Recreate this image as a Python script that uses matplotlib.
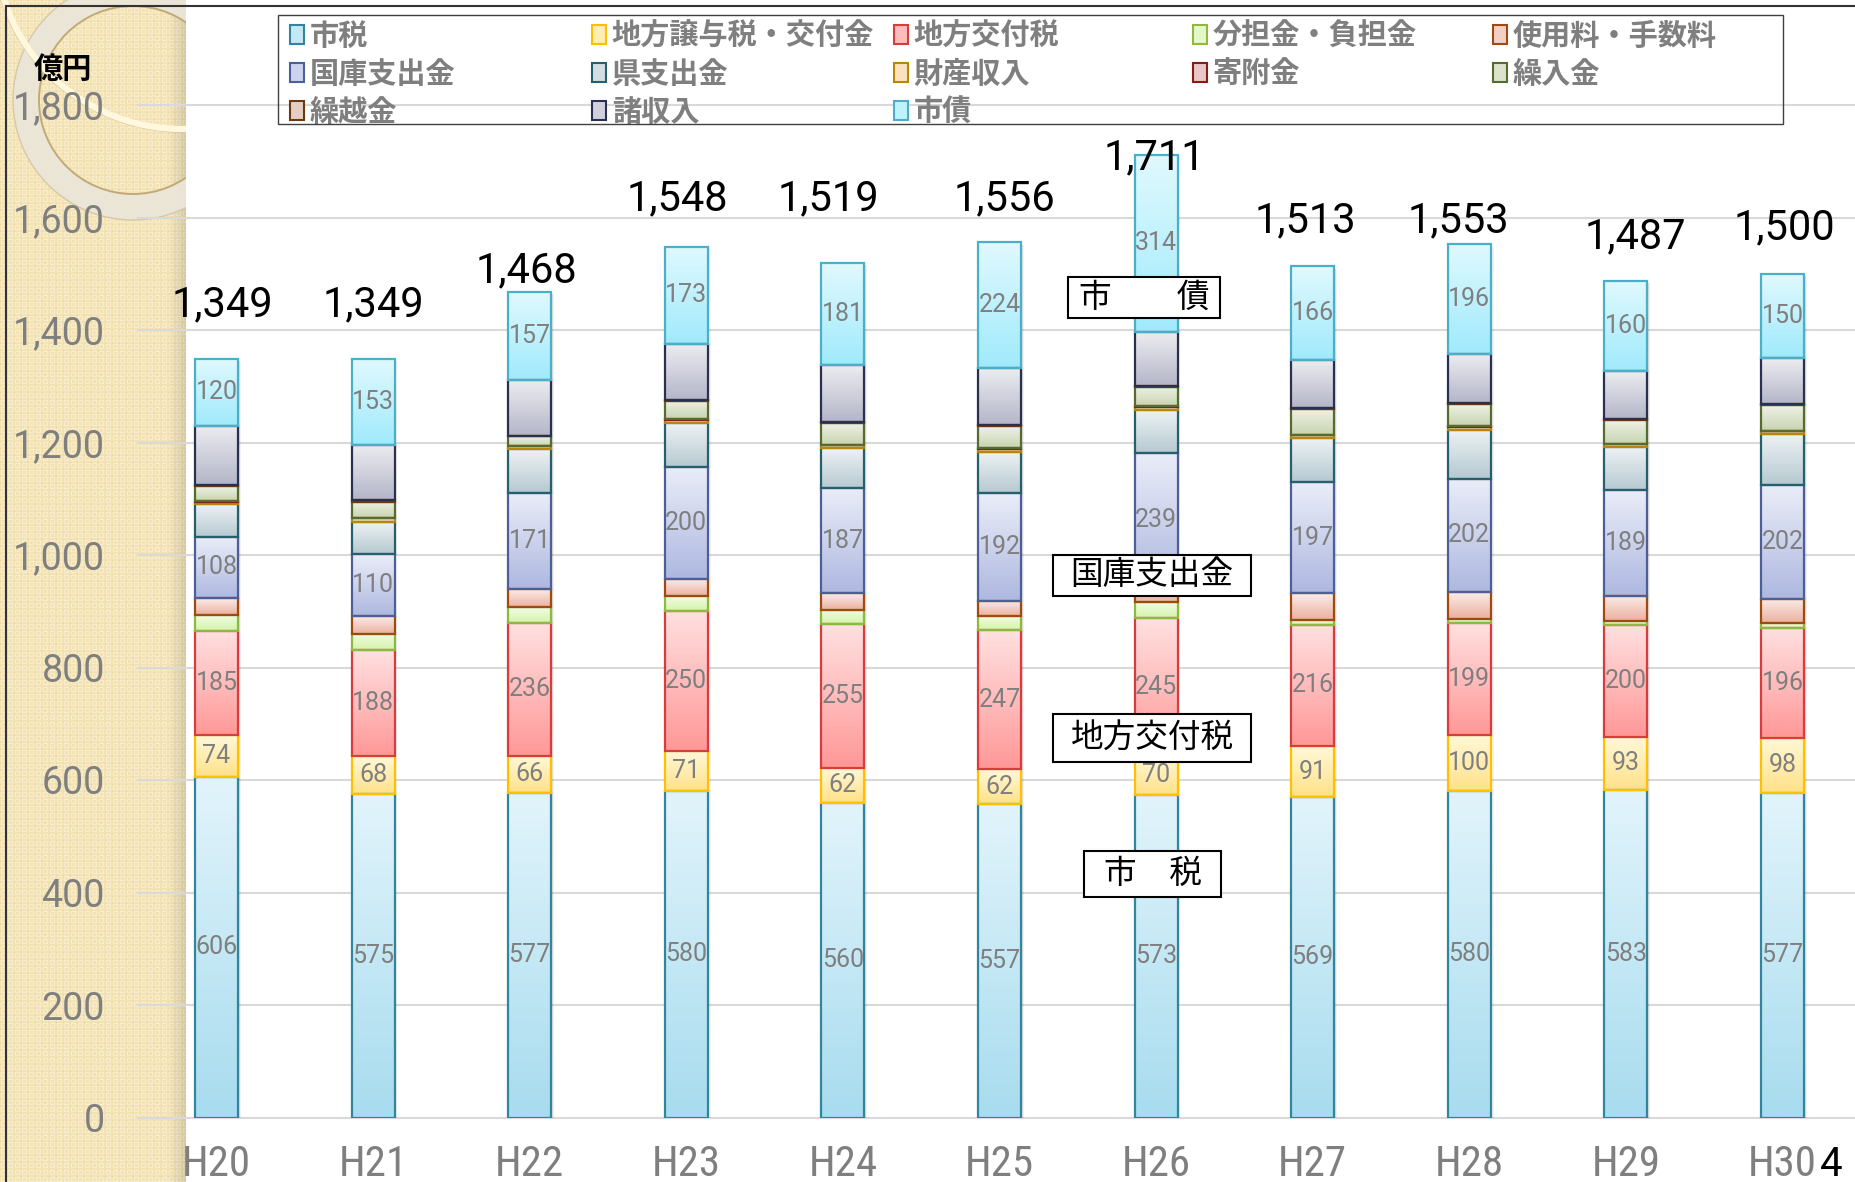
import numpy as np
import matplotlib
matplotlib.use('Agg')
import matplotlib.pyplot as plt
from matplotlib.patches import Patch, Rectangle, Circle, Wedge
from matplotlib.lines import Line2D
from matplotlib import font_manager as fm
from matplotlib.colors import to_rgb

plt.rcParams['font.family'] = ['Noto Sans CJK JP', 'DejaVu Sans']
names_avail = {f.name for f in fm.fontManager.ttflist}
NUM = 'Roboto' if 'Roboto' in names_avail else 'DejaVu Sans'
# narrow font for category labels
XLAB = dict(family=NUM, size=29)
if 'Roboto Condensed' in names_avail:
    XLAB = dict(family='Roboto Condensed', size=31)
elif 'Liberation Sans Narrow' in names_avail:
    XLAB = dict(family='Liberation Sans Narrow', size=31)
elif any(f.name == 'DejaVu Sans' and f.stretch == 'condensed' for f in fm.fontManager.ttflist):
    XLAB = dict(family='DejaVu Sans', size=29, stretch='condensed')

# ---------------- data ----------------
categories = ['H20', 'H21', 'H22', 'H23', 'H24', 'H25', 'H26', 'H27', 'H28', 'H29', 'H30']
shizei      = [606, 575, 577, 580, 560, 557, 573, 569, 580, 583, 577]   # 市税
joyo        = [74, 68, 66, 71, 62, 62, 70, 91, 100, 93, 98]            # 地方譲与税・交付金
kofuzei     = [185, 188, 236, 250, 255, 247, 245, 216, 199, 200, 196]  # 地方交付税
buntan      = [29, 29, 28, 26, 26, 26, 28, 8, 7, 6, 8]                 # 分担金・負担金
shiyoryo    = [30, 31, 32, 30, 29, 27, 27, 48, 48, 45, 43]             # 使用料・手数料
kokko       = [108, 110, 171, 200, 187, 192, 239, 197, 202, 189, 202]  # 国庫支出金
ken         = [58, 58, 78, 77, 71, 73, 76, 79, 86, 76, 92]             # 県支出金
zaisan      = [5, 6, 5, 6, 5, 5, 5, 5, 5, 5, 4]                        # 財産収入
kifu        = [1, 1, 1, 1, 1, 1, 2, 1, 3, 1, 1]                        # 寄附金
kurire      = [26, 29, 17, 33, 39, 39, 34, 45, 39, 42, 46]             # 繰入金
kurikoshi   = [2, 2, 1, 2, 2, 2, 2, 2, 2, 2, 2]                        # 繰越金
shoshunyu   = [105, 99, 99, 99, 101, 101, 96, 86, 86, 85, 81]          # 諸収入
shisai      = [120, 153, 157, 173, 181, 224, 314, 166, 196, 160, 150]  # 市債

series_names = ['市税', '地方譲与税・交付金', '地方交付税', '分担金・負担金', '使用料・手数料',
                '国庫支出金', '県支出金', '財産収入', '寄附金', '繰入金', '繰越金', '諸収入', '市債']
series_vals = [shizei, joyo, kofuzei, buntan, shiyoryo, kokko, ken, zaisan, kifu,
               kurire, kurikoshi, shoshunyu, shisai]
labeled = {'市税', '地方譲与税・交付金', '地方交付税', '国庫支出金', '市債'}

# styles: (top colour, bottom colour, edge colour)
styles = [
    ('#E2F4FB', '#A8DCEF', '#31859C'),
    ('#FFF8D8', '#FFE189', '#FFC000'),
    ('#FFE0E0', '#FF9898', '#D93C3C'),
    ('#F2FCE4', '#D3F4AB', '#8FB840'),
    ('#FBEDE8', '#EBB0A0', '#A04A10'),
    ('#EAEDF8', '#AEB8E0', '#4E5F98'),
    ('#EEF2F4', '#B6CAD1', '#25606C'),
    ('#FFF3DC', '#F4D0A0', '#B8860B'),
    ('#F8E4E4', '#DCA8A8', '#8B1A1A'),
    ('#EEF2E6', '#C8D4B0', '#556B2F'),
    ('#F4E6E0', '#D6B6A8', '#6B3A12'),
    ('#ECECF0', '#B4B6C8', '#2A3050'),
    ('#E0F9FE', '#A0EAFC', '#4BAFC8'),
]

# total label placement (layout): offsets in category units / value units
tot_dx = [0.04, 0.0, -0.02, -0.06, -0.09, 0.03, -0.01, -0.045, -0.07, 0.057, 0.015]
tot_dy = [75, 75, 17, 65, 94, 57, -26, 60, 20, 59, 61]

W, H = 1855, 1182
fig = plt.figure(figsize=(W / 100, H / 100), dpi=100)

# ---------------- left decorative panel ----------------
PW = 186
pax = fig.add_axes([0, 0, PW / W, 1], zorder=0)
pax.set_xlim(0, PW)
pax.set_ylim(H, 0)
pax.axis('off')
yy, xx = np.mgrid[0:H, 0:PW]
base = np.array([242, 226, 180]) / 255
light = np.array([248, 237, 205]) / 255
dark = np.array([232, 213, 160]) / 255
tex = np.ones((H, PW, 3)) * base
mi, mj = yy % 7, xx % 7
ring = ((mi >= 1) & (mi <= 5) & (mj >= 1) & (mj <= 5)) & ((mi == 1) | (mi == 5) | (mj == 1) | (mj == 5))
tex[ring] = light
tex[(mi == 0) & (mj == 0)] = dark
shade = np.clip((xx - 168) / 18.0, 0, 1)[..., None]
tex = tex * (1 - 0.12 * shade)
pax.imshow(tex, extent=(0, PW, H, 0), aspect='auto', interpolation='nearest')
pax.add_patch(Wedge((133, 100), 120, 0, 360, width=26, facecolor=(0.92, 0.90, 0.85, 0.95),
                    edgecolor='none'))
pax.add_patch(Circle((133, 100), 94, fill=False, edgecolor='#C2AA78', lw=1.4))
pax.add_patch(Circle((133, 100), 120, fill=False, edgecolor='#D6C8A8', lw=1.0))
pax.add_patch(Circle((182, -58), 190, fill=False, edgecolor='#D8C8A0', lw=1.0))
pax.add_patch(Circle((182, -58), 187, fill=False, edgecolor='#FFF7DE', lw=4.5))

# ---------------- main axes ----------------
x0px, x1px = 138.2, 1860.8
y0px, y1px = 1117.5, 105.0
ax = fig.add_axes([x0px / W, (H - y0px) / H, (x1px - x0px) / W, (y0px - y1px) / H], zorder=2)
ax.patch.set_visible(False)

x = np.arange(len(categories))
bw = 0.275
totals_all = np.sum(np.array(series_vals, dtype=float), axis=0)
# soft drop shadow behind each stacked bar
for k, a in ((0.018, 0.05), (0.010, 0.07)):
    ax.bar(x + k, totals_all, bw, bottom=-4, color='black', alpha=a, edgecolor='none', zorder=1.5)

bottom = np.zeros(len(categories))
grad = np.linspace(0, 1, 64)[:, None, None]
for name, vals, (ct, cb, ce) in zip(series_names, series_vals, styles):
    vals = np.array(vals, dtype=float)
    top_c, bot_c = np.array(to_rgb(ct)), np.array(to_rgb(cb))
    mid = (top_c + bot_c) / 2
    bars = ax.bar(x, vals, bw, bottom=bottom, color=mid, edgecolor='none', zorder=2)
    img = top_c * (1 - grad) + bot_c * grad
    for p in bars.patches:
        px, py, pw, ph = p.get_x(), p.get_y(), p.get_width(), p.get_height()
        im = ax.imshow(img, extent=(px, px + pw, py, py + ph), origin='upper',
                       aspect='auto', interpolation='bilinear', zorder=3)
        im.set_clip_path(p)
    ax.bar(x, vals, bw, bottom=bottom, fill=False, edgecolor=ce, lw=1.6, zorder=4)
    if name in labeled:
        for xi, b, v in zip(x, bottom, vals):
            ax.text(xi, b + v / 2, f'{int(v)}', ha='center', va='center', color='#7F7F7F',
                    fontsize=18, family=NUM, zorder=5)
    bottom = bottom + vals

totals = bottom
for xi, t, dx, dy in zip(x, totals, tot_dx, tot_dy):
    ax.text(xi + dx, t + dy, f'{int(t):,}', ha='center', va='baseline', fontsize=30,
            family=NUM, color='black', zorder=6)

ax.set_xlim(-0.5, 10.5)
ax.set_ylim(0, 1800)
ax.set_yticks(range(0, 1801, 200))
ax.set_yticklabels([f'{v:,}' for v in range(0, 1801, 200)])
ax.set_xticks(x)
ax.set_xticklabels(categories)
ax.tick_params(axis='y', length=0, pad=24, labelsize=27, labelcolor='#7F7F7F')
ax.tick_params(axis='x', length=0, pad=19, labelcolor='#7F7F7F')
for lbl in ax.get_yticklabels():
    lbl.set_fontfamily(NUM)
for lbl in ax.get_xticklabels():
    lbl.set_fontfamily(XLAB['family'])
    lbl.set_fontsize(XLAB['size'])
    if 'stretch' in XLAB:
        lbl.set_fontstretch(XLAB['stretch'])
for s in ax.spines.values():
    s.set_visible(False)
ax.set_axisbelow(True)
ax.yaxis.grid(True, color='#D9D9D9', lw=1.5, zorder=0)
for gl in ax.get_ygridlines():
    gl.set_clip_on(False)

# callout boxes on H26
callouts = [('市　　債', 5.437, 6.408, 1421, 1494),
            ('国庫支出金', 5.342, 6.606, 928, 1000),
            ('地方交付税', 5.342, 6.606, 632, 718),
            ('市　税', 5.540, 6.414, 392, 474)]
for txt, xa, xb, ya, yb in callouts:
    ax.add_patch(Rectangle((xa, ya), xb - xa, yb - ya, facecolor='white', edgecolor='black',
                           lw=1.5, zorder=6))
    ax.text((xa + xb) / 2, (ya + yb) / 2, txt, ha='center', va='center', fontsize=23.5,
            color='black', zorder=7)

# ---------------- legend ----------------
col_members = [[0, 5, 10], [1, 6, 11], [2, 7, 12], [3, 8], [4, 9]]
col_x = [290, 592, 894, 1193, 1493]
for members, cx in zip(col_members, col_x):
    hs = [Patch(facecolor=np.mean([to_rgb(styles[i][0]), to_rgb(styles[i][1])], axis=0),
                edgecolor=styles[i][2], lw=1.5) for i in members]
    fig.legend(hs, [series_names[i] for i in members], loc='upper left',
               bbox_to_anchor=(cx / W, 1 - 21 / H), bbox_transform=fig.transFigure,
               frameon=False, prop=dict(family='Noto Sans CJK JP', size=21, weight='bold'),
               labelcolor='#7F7F7F', handlelength=0.48, handleheight=0.6, handletextpad=0.2,
               labelspacing=0.27, borderpad=0, borderaxespad=0)
fig.add_artist(Rectangle((278 / W, 1 - 124 / H), 1505 / W, 109 / H, transform=fig.transFigure,
                         fill=False, edgecolor='#404040', lw=1.0, zorder=10))

# ---------------- misc text / borders ----------------
fig.text(63 / W, 1 - 69 / H, '億円', ha='center', va='center', fontsize=21, weight='bold',
         color='black')
fig.text(1831 / W, 1 - 1164 / H, '4', ha='center', va='center', fontsize=29, family=NUM,
         color='black')
fig.add_artist(Line2D([6 / W, 1], [1 - 6 / H, 1 - 6 / H], color='#333333', lw=1.5,
                      transform=fig.transFigure))
fig.add_artist(Line2D([6 / W, 6 / W], [0, 1 - 6 / H], color='#333333', lw=1.5,
                      transform=fig.transFigure))

fig.savefig('out.png', dpi=100)
